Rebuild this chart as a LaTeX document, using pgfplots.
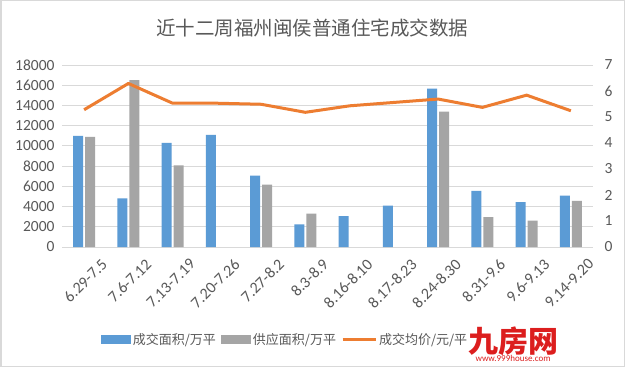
\documentclass[border=0pt]{standalone}
\usepackage{fontspec}
\usepackage{pgfplots}
\pgfplotsset{compat=1.18}
\setmainfont{Carlito}
\newfontfamily\cjk{Noto Sans CJK SC}
\definecolor{cblue}{RGB}{91,155,213}
\definecolor{cgray}{RGB}{165,165,165}
\definecolor{corange}{RGB}{237,125,49}
\definecolor{ctext}{RGB}{89,89,89}
\definecolor{cgrid}{RGB}{217,217,217}
\definecolor{cred}{RGB}{220,30,30}
\begin{document}
\begin{tikzpicture}[x=1bp,y=1bp]
\useasboundingbox (0,0) rectangle (625,367);
\fill[white] (0,0) rectangle (625,367);
\draw[cgrid, line width=1.5bp] (0.75,0.75) rectangle (624.25,366.25);
\node[text=ctext, font=\cjk\fontsize{19.5bp}{22bp}\selectfont] at (312,339) {近十二周福州闽侯普通住宅成交数据};
\begin{axis}[
  at={(62bp,120bp)}, anchor=south west, scale only axis,
  width=531bp, height=182bp,
  xmin=-0.5, xmax=11.5, ymin=0, ymax=18000,
  ytick={0,2000,...,18000},
  scaled y ticks=false,
  ymajorgrids, grid style={cgrid, line width=0.8bp},
  axis line style={draw=none},
  major tick length=0pt,
  xtick={0,...,11},
  xticklabels={6.29-7.5,7.6-7.12,7.13-7.19,7.20-7.26,7.27-8.2,8.3-8.9,8.16-8.10,8.17-8.23,8.24-8.30,8.31-9.6,9.6-9.13,9.14-9.20},
  xticklabel style={rotate=45, anchor=north east, font=\fontsize{16bp}{18bp}\selectfont, text=ctext, xshift=5bp, yshift=-18bp, inner sep=1bp},
  yticklabel style={font=\fontsize{15.5bp}{17bp}\selectfont, text=ctext, xshift=-4bp},
  /pgf/number format/assume math mode=true,
  /pgf/number format/1000 sep={},
  ybar, bar width=10bp,
  legend columns=3,
  legend style={at={(0.42,-0.51)}, anchor=center, draw=none, fill=none,
    font=\cjk\fontsize{13bp}{15bp}\selectfont, text=ctext,
    /tikz/every even column/.append style={column sep=3bp},
    /tikz/every odd column/.append style={column sep=0bp}},
]
\addplot[fill=cblue, draw=none, bar shift=-6bp,
  legend image code/.code={\fill[cblue] (0bp,-4.5bp) rectangle (30bp,4.5bp);}]
  coordinates {(0,11000) (1,4800) (2,10300) (3,11100) (4,7050) (5,2230) (6,3050) (7,4100) (8,15670) (9,5540) (10,4430) (11,5080)};
\addlegendentry{成交面积/万平}
\addplot[fill=cgray, draw=none, bar shift=6bp,
  legend image code/.code={\fill[cgray] (0bp,-4.5bp) rectangle (30bp,4.5bp);}]
  coordinates {(0,10900) (1,16500) (2,8070) (4,6160) (5,3300) (8,13400) (9,2950) (10,2600) (11,4560)};
\addlegendentry{供应面积/万平}
\addlegendimage{legend image code/.code={\draw[corange, line width=3bp] (0bp,0bp) -- (33bp,0bp);}}
\addlegendentry{成交均价/元/平}
\end{axis}
\begin{axis}[
  at={(62bp,120bp)}, anchor=south west, scale only axis,
  width=531bp, height=182bp,
  xmin=-0.5, xmax=11.5, ymin=0, ymax=7,
  ytick={0,1,...,7},
  axis y line*=right, axis x line=none,
  axis line style={draw=none},
  major tick length=0pt,
  yticklabel style={font=\fontsize{15.5bp}{17bp}\selectfont, text=ctext, xshift=8bp},
  /pgf/number format/assume math mode=true,
]
\addplot[corange, line width=3bp, mark=none, line join=round]
  coordinates {(0,5.28) (1,6.29) (2,5.53) (3,5.53) (4,5.49) (5,5.18) (6,5.43) (7,5.56) (8,5.69) (9,5.37) (10,5.84) (11,5.24)};
\end{axis}
\node[text=cred, font=\cjk\bfseries\fontsize{30bp}{32bp}\selectfont] at (513,26) {九房网};
\node[text=cred, font=\fontsize{9bp}{10bp}\selectfont] at (513,9) {www.999house.com};
\end{tikzpicture}
\end{document}
